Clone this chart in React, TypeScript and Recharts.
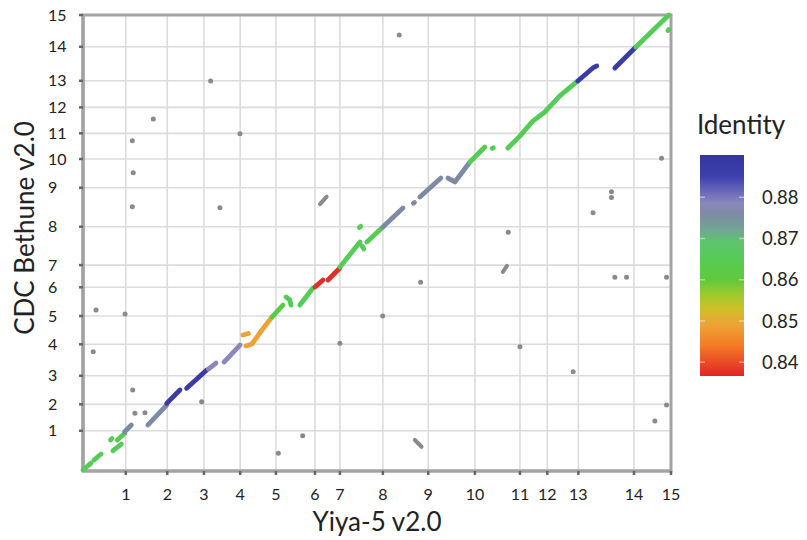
import React from "react";
import {
  ScatterChart,
  ComposedChart,
  Scatter,
  XAxis,
  YAxis,
  CartesianGrid,
  ReferenceArea,
  ReferenceLine,
  Label,
} from "recharts";

// chromosome lengths (Mb) of the two flax assemblies
const chromLabels = ["1", "2", "3", "4", "5", "6", "7", "8", "9", "10", "11", "12", "13", "14", "15"];
const yiyaLengths = [23.0, 22.3, 19.7, 19.5, 19.2, 21.0, 13.4, 23.1, 24.4, 25.1, 24.2, 14.7, 16.7, 29.9, 19.9];
const bethuneLengths = [27.9, 18.3, 19.8, 21.8, 19.6, 19.9, 15.4, 26.6, 27.0, 19.9, 17.8, 18.0, 18.4, 23.6, 22.0];

// syntenic blocks along the diagonal: identity + [yiya Mb, bethune Mb] points
const alignBlocks: { id: number; pts: number[][] }[] = [
  { id: 0.865, pts: [[0, 0.7], [4.3, 5.5]] },
  { id: 0.865, pts: [[5.9, 7.6], [9.7, 11.8]] },
  { id: 0.865, pts: [[16.1, 14.1], [20.6, 18.7]] },
  { id: 0.865, pts: [[14.8, 21.5], [15.6, 22.5]] },
  { id: 0.865, pts: [[18.4, 21.5], [22.4, 26.1]] },
  { id: 0.876, pts: [[22.4, 27.2], [26.0, 31.9]] },
  { id: 0.876, pts: [[34.9, 31.9], [45.0, 45.7]] },
  { id: 0.887, pts: [[45.0, 46.9], [52.1, 56.1]] },
  { id: 0.887, pts: [[55.7, 57.3], [66.5, 70.0]] },
  { id: 0.8785, pts: [[67.4, 70.6], [71.5, 74.8]] },
  { id: 0.8785, pts: [[75.8, 75.5], [84.4, 87.3]] },
  { id: 0.849, pts: [[86.0, 94.2], [88.9, 95.3]] },
  { id: 0.849, pts: [[87.6, 86.6], [90.8, 88.0], [96.2, 97.7], [101.6, 106.7]] },
  { id: 0.862, pts: [[101.6, 106.7], [107.5, 115.0]] },
  { id: 0.865, pts: [[109.1, 120.6], [111.2, 118.5], [111.8, 115.0]] },
  { id: 0.865, pts: [[116.6, 115.0], [123.6, 126.8]] },
  { id: 0.8375, pts: [[124.7, 127.5], [129.0, 132.4]] },
  { id: 0.8375, pts: [[131.7, 132.4], [138.1, 140.7]] },
  { id: 0.865, pts: [[138.1, 141.4], [148.9, 158.7]] },
  { id: 0.865, pts: [[148.5, 168.7], [149.3, 169.5]] },
  { id: 0.865, pts: [[150.0, 155.9], [151.0, 153.8]] },
  { id: 0.865, pts: [[152.6, 158.7], [161.2, 169.1]] },
  { id: 0.876, pts: [[161.2, 169.1], [172.0, 182.3]] },
  { id: 0.876, pts: [[177.6, 185.5], [178.2, 186.0]] },
  { id: 0.876, pts: [[181.1, 189.9], [192.4, 203.0]] },
  { id: 0.876, pts: [[196.2, 203.0], [199.9, 200.3], [206.4, 211.4], [208.0, 214.1]] },
  { id: 0.865, pts: [[208.0, 214.1], [216.0, 224.5]] },
  { id: 0.865, pts: [[220.0, 223.6], [220.6, 224.0]] },
  { id: 0.865, pts: [[228.4, 223.8], [234.8, 232.1], [241.8, 242.5], [248.3, 248.8], [256.3, 259.9], [266.0, 270.3]] },
  { id: 0.887, pts: [[266.0, 270.3], [274.1, 279.3], [276.2, 280.7]] },
  { id: 0.887, pts: [[285.9, 279.3], [297.2, 293.8]] },
  { id: 0.865, pts: [[297.2, 293.8], [314.9, 316.0]] },
  { id: 0.865, pts: [[314.4, 305.2], [314.8, 305.9]] },
];

// scattered off-diagonal hits
const strayDots = [
  [68.6, 270.3], [37.8, 243.9], [26.5, 228.9], [84.4, 233.7], [27.0, 206.7], [26.5, 183.2], [73.6, 182.5],
  [170.0, 302.1], [311.0, 216.7], [284.1, 193.5], [284.1, 189.5], [274.2, 179.0], [228.6, 165.4],
  [7.0, 111.6], [5.5, 82.7], [22.6, 108.8], [26.7, 56.1], [27.9, 40.0], [33.3, 40.4], [63.8, 48.0],
  [105.0, 12.3], [118.1, 24.5], [138.1, 88.5], [181.5, 130.8], [161.1, 107.4], [234.9, 86.1], [263.5, 68.8],
  [285.9, 134.2], [292.2, 134.2], [313.7, 134.2], [313.7, 45.7], [307.4, 34.6],
];
const strayDashes = [
  [[127.4, 185.0], [131.0, 190.1]],
  [[225.7, 137.9], [227.9, 142.1]],
  [[178.4, 21.5], [182.0, 16.8]],
];

// identity colour scale
const identityTicks = [0.84, 0.85, 0.86, 0.87, 0.88];
const identityMin = 0.8367;
const identityMax = 0.8902;
const identityStops: [number, string][] = [
  [0.8902, "#34359f"],
  [0.885, "#3d3fae"],
  [0.881, "#6f6cbc"],
  [0.8785, "#8a88bc"],
  [0.876, "#7e8aa4"],
  [0.872, "#72a693"],
  [0.869, "#5ec56c"],
  [0.865, "#55cc55"],
  [0.86, "#62c83c"],
  [0.8565, "#9ccb2e"],
  [0.853, "#cfc028"],
  [0.849, "#eea236"],
  [0.844, "#f47a24"],
  [0.8367, "#e02525"],
];

const FONT = "Lato, 'Open Sans', sans-serif";

function cumulative(arr: number[]) {
  let s = 0;
  return arr.map((v) => (s += v));
}

const xTicks = cumulative(yiyaLengths);
const yTicks = cumulative(bethuneLengths);
const xTotal = xTicks[xTicks.length - 1];
const yTotal = yTicks[yTicks.length - 1];

function hexToRgb(h: string) {
  const n = parseInt(h.slice(1), 16);
  return [(n >> 16) & 255, (n >> 8) & 255, n & 255];
}

function identityColor(v: number) {
  for (let i = 0; i < identityStops.length - 1; i++) {
    const [v0, c0] = identityStops[i];
    const [v1, c1] = identityStops[i + 1];
    if (v <= v0 && v >= v1) {
      const t = (v0 - v) / (v0 - v1);
      const a = hexToRgb(c0);
      const b = hexToRgb(c1);
      const m = a.map((x, k) => Math.round(x + (b[k] - x) * t));
      return `rgb(${m[0]},${m[1]},${m[2]})`;
    }
  }
  return v > identityMax ? identityStops[0][1] : identityStops[identityStops.length - 1][1];
}

function labelFor(ticks: number[]) {
  return (v: number) => {
    const i = ticks.findIndex((t) => Math.abs(t - v) < 1e-6);
    return i >= 0 ? chromLabels[i] : "";
  };
}

const noPoint = () => <g />;
const grayDot = (p: any) => <circle cx={p.cx} cy={p.cy} r={2.5} fill="#8a8a8a" />;

const toXY = (pts: number[][]) => pts.map(([x, y]) => ({ x, y }));

export default function App() {
  return (
    <div style={{ position: "absolute", left: 0, top: 0, width: 807, height: 540, background: "#fff" }}>
      <ScatterChart width={807} height={540} margin={{ top: 15, right: 136, bottom: 0, left: 0 }}>
        <CartesianGrid stroke="#dcdcdc" strokeWidth={1.6} />
        <XAxis
          type="number"
          dataKey="x"
          domain={[0, xTotal]}
          ticks={xTicks}
          interval={0}
          height={69}
          tickFormatter={labelFor(xTicks)}
          axisLine={{ stroke: "#a3a3a3", strokeWidth: 3 }}
          tickLine={{ stroke: "#666", strokeWidth: 2.5 }}
          tickSize={4}
          tickMargin={14}
          tick={{ fontSize: 16, fill: "#222", fontFamily: FONT }}
        >
          <Label
            value="Yiya-5 v2.0"
            position="insideBottom"
            offset={9}
            style={{ fontSize: 26, fill: "#222", fontFamily: FONT }}
          />
        </XAxis>
        <YAxis
          type="number"
          dataKey="y"
          domain={[0, yTotal]}
          ticks={yTicks}
          interval={0}
          width={83}
          tickFormatter={labelFor(yTicks)}
          axisLine={{ stroke: "#a3a3a3", strokeWidth: 3.5 }}
          tickLine={{ stroke: "#666", strokeWidth: 2.5 }}
          tickSize={4}
          tickMargin={31}
          tick={{ fontSize: 16, fill: "#222", fontFamily: FONT, textAnchor: "start" }}
        >
          <Label
            content={() => (
              <text
                x={24}
                y={228}
                transform="rotate(-90 24 228)"
                textAnchor="middle"
                dominantBaseline="central"
                style={{ fontSize: 26, fill: "#222", fontFamily: FONT }}
              >
                CDC Bethune v2.0
              </text>
            )}
          />
        </YAxis>
        <ReferenceArea
          x1={0}
          x2={xTotal}
          y1={0}
          y2={yTotal}
          fill="none"
          stroke="#a3a3a3"
          strokeWidth={3}
        />
        <Scatter data={toXY(strayDots)} shape={grayDot} isAnimationActive={false} />
        {strayDashes.map((d, i) => (
          <Scatter
            key={`d${i}`}
            data={toXY(d)}
            line={{ stroke: "#8a8a8a", strokeWidth: 4, strokeLinecap: "round" }}
            lineType="joint"
            shape={noPoint}
            isAnimationActive={false}
          />
        ))}
        {alignBlocks.map((b, i) => (
          <Scatter
            key={`b${i}`}
            data={toXY(b.pts)}
            line={{
              stroke: identityColor(b.id),
              strokeWidth: 4.8,
              strokeLinecap: "round",
              strokeLinejoin: "round",
            }}
            lineType="joint"
            shape={noPoint}
            isAnimationActive={false}
          />
        ))}
      </ScatterChart>

      <div
        style={{
          position: "absolute",
          left: 690,
          top: 108,
          width: 102,
          textAlign: "center",
          fontFamily: FONT,
          fontSize: 26,
          color: "#222",
          lineHeight: "normal",
        }}
      >
        Identity
      </div>

      <div style={{ position: "absolute", left: 690, top: 0 }}>
        <ComposedChart
          width={117}
          height={400}
          data={identityTicks.map((v) => ({ x: 0.5, v }))}
          margin={{ top: 155, right: 0, bottom: 24, left: 10 }}
        >
          <defs>
            <linearGradient id="identityGrad" x1="0" y1="0" x2="0" y2="1">
              {identityStops.map(([v, c]) => (
                <stop
                  key={v}
                  offset={(identityMax - v) / (identityMax - identityMin)}
                  stopColor={c}
                />
              ))}
            </linearGradient>
          </defs>
          <XAxis type="number" dataKey="x" domain={[0, 1]} hide />
          <YAxis
            type="number"
            dataKey="v"
            orientation="right"
            width={63}
            domain={[identityMin, identityMax]}
            ticks={identityTicks}
            interval={0}
            tickLine={false}
            axisLine={false}
            tickSize={0}
            tickMargin={18}
            tickFormatter={(v: number) => v.toFixed(2)}
            tick={{ fontSize: 18.5, fill: "#222", fontFamily: FONT }}
          />
          <ReferenceArea
            x1={0}
            x2={1}
            y1={identityMin}
            y2={identityMax}
            fill="url(#identityGrad)"
            fillOpacity={1}
            stroke="none"
          />
          {identityTicks.map((v) => (
            <ReferenceLine
              key={v}
              y={v}
              stroke="#ffffff"
              strokeOpacity={0.45}
              strokeWidth={1.5}
              strokeDasharray="5 34 5"
            />
          ))}
        </ComposedChart>
      </div>
    </div>
  );
}
